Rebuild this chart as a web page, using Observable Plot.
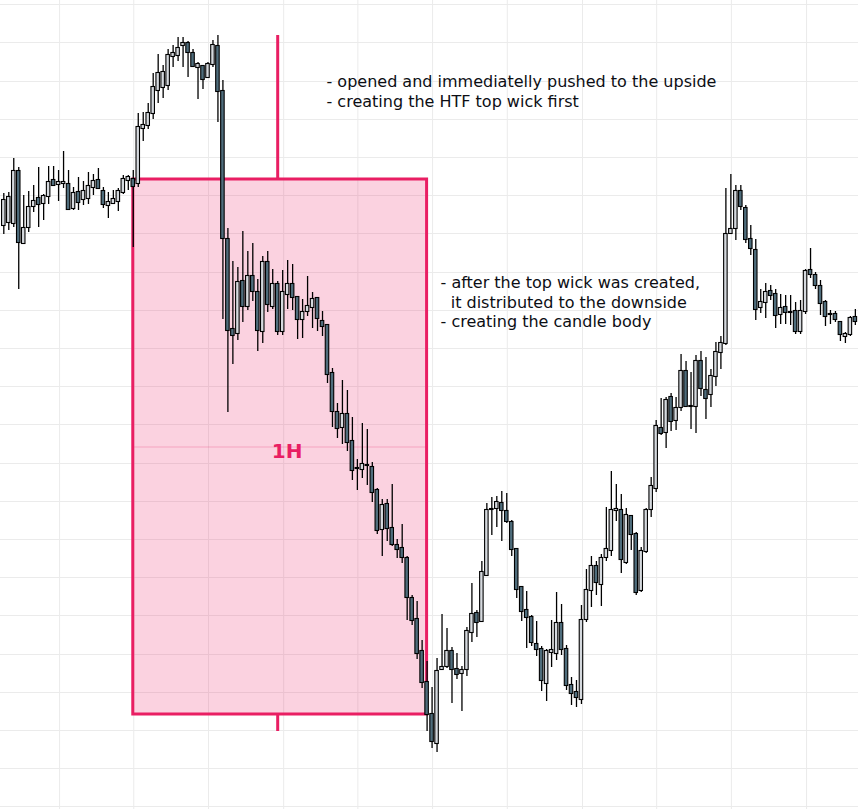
<!DOCTYPE html>
<html><head><meta charset="utf-8">
<script src="https://cdn.jsdelivr.net/npm/d3@7"></script>
<script src="https://cdn.jsdelivr.net/npm/@observablehq/plot@0.6"></script>
<style>
html,body{margin:0;padding:0;background:#fff;}
#chart svg{display:block;}
</style></head><body><div id="chart"></div>
<script>
// OHLC of the lower-timeframe candles (price units)
const open = [775,778,777,829,757,773,794,802,797,804,820,816,817,816,792,808,801,802,813,820,
809,795,797,799,808,820,821,817,872,875,887,910,913,915,944,945,955,957,947,933,
934,923,936,954,909,761,671,667,719,694,724,708,669,738,694,716,669,706,716,703,
681,689,693,702,679,675,627,588,573,586,559,532,531,535,533,510,471,496,472,455,
452,442,402,381,349,318,286,257,331,334,349,331,327,331,368,387,379,425,491,492,
497,489,478,451,413,390,383,356,351,317,348,347,377,351,315,308,301,381,410,434,
416,443,450,490,490,438,484,466,410,449,491,512,572,568,603,580,593,629,594,594,
639,610,606,624,648,657,767,772,809,792,761,750,693,698,709,706,686,693,688,689,
669,689,730,725,714,698,686,686,678,664,666,683];
const high = [807,808,842,833,805,809,815,833,806,834,834,830,849,830,813,823,819,828,826,832,
813,808,810,812,825,825,830,887,888,897,927,946,935,951,955,963,963,959,951,938,
935,938,960,965,920,772,739,733,769,749,757,721,744,749,731,719,730,740,736,703,
701,724,708,703,689,675,632,597,620,610,583,541,577,571,538,512,501,501,516,461,
476,444,405,399,360,339,313,342,386,372,353,347,334,373,417,390,439,497,503,504,
509,507,480,451,414,409,385,379,354,351,380,408,396,355,323,320,395,431,444,439,
446,493,529,516,506,492,485,468,453,492,523,580,602,603,607,603,646,639,628,645,
649,643,631,658,664,812,826,815,815,795,775,761,711,717,715,711,706,705,705,698,
700,731,752,728,720,700,690,689,678,668,684,691];
const low = [766,770,773,711,757,768,788,773,780,796,814,799,812,790,790,790,795,796,805,811,
792,782,796,789,806,810,753,813,859,871,881,897,902,910,933,939,933,923,933,901,
911,922,933,878,681,588,636,660,678,690,699,649,657,688,691,665,665,691,690,661,
662,684,672,669,664,617,573,562,556,549,520,510,522,515,498,466,444,459,454,442,
437,380,375,341,312,269,252,248,330,332,297,321,289,324,358,363,378,424,465,473,
459,477,444,402,379,352,354,344,309,299,333,340,345,310,295,293,296,378,393,405,
394,439,444,479,427,436,450,405,408,447,483,508,565,552,569,570,589,593,571,567,
604,581,593,614,631,655,767,760,790,757,745,680,687,682,700,672,676,676,675,666,
666,686,722,711,685,674,676,678,659,657,664,675];
const close = [800,803,829,758,772,793,799,796,804,818,815,818,818,791,807,798,809,814,819,812,
796,798,801,809,821,823,814,873,875,887,913,927,928,945,947,952,957,948,934,936,
921,936,955,909,762,670,665,718,694,724,709,670,738,696,716,669,708,716,703,681,
688,694,701,682,674,626,589,572,586,558,530,532,536,535,508,470,495,472,456,451,
443,403,380,347,318,286,259,329,333,349,331,326,330,369,386,378,428,490,491,498,
490,479,451,411,389,383,358,351,320,349,350,377,351,315,307,303,380,410,434,418,
442,451,490,491,441,485,466,408,449,490,514,574,567,600,579,592,629,594,594,639,
612,602,624,648,657,766,771,809,794,761,752,691,698,708,705,685,692,688,688,669,
689,729,726,715,697,684,686,681,666,666,682,679];

// price grid levels and time grid positions (candle index)
const gridPrices = [996,958,919,881,843,805,767,728,690,652,614,576,537,499,461,423,385,346,308,270,232,194];
const gridTimes = [11.2,26.1,41.1,56.2,71.1,86.1,101.1,116.2,131.1,146.1,161.2];

// higher-timeframe candle range (candle indices) and its label
const htfStart = 26, htfEnd = 85;
const htfLabel = "1H";

// annotation texts and their anchors (candle index, price)
const noteText = [
  "- opened and immediatelly pushed to the upside\n- creating the HTF top wick first",
  "- after the top wick was created,\n\u00a0\u00a0it distributed to the downside\n- creating the candle body"
];
const noteX = [64.8, 87.7];
const noteY = [928, 726];

const PINK = "#e91e63";
const UP = "#d5d9de", DOWN = "#4f6d7c";

const candles = open.map((o, i) => ({i, open: o, high: high[i], low: low[i], close: close[i]}));
const seg = candles.slice(htfStart, htfEnd + 1);
const H = {
  x1: htfStart, x2: htfEnd,
  xm: Math.floor((htfStart + htfEnd) / 2), xc: (htfStart + htfEnd) / 2,
  open: seg[0].open, close: seg[seg.length - 1].close,
  high: d3.max(seg, d => d.high), low: d3.min(seg, d => d.low)
};
H.mid = (H.open + H.close) / 2;
H.top = Math.max(H.open, H.close); H.bot = Math.min(H.open, H.close);
const notes = noteText.map((t, k) => ({t, x: noteX[k], y: noteY[k], lh: k === 0 ? 1.25 : 1.22}));

const chart = Plot.plot({
  width: 858, height: 809,
  marginTop: 0, marginRight: 0, marginBottom: 0, marginLeft: 0,
  x: {domain: [-0.663, 171.63], axis: null},
  y: {domain: [191, 1000], axis: null},
  color: {type: "identity"},
  style: {background: "#ffffff", fontFamily: "DejaVu Sans"},
  marks: [
    Plot.ruleY(gridPrices, {stroke: "#ebebeb", strokeWidth: 1}),
    Plot.ruleX(gridTimes, {stroke: "#ebebeb", strokeWidth: 1}),
    Plot.rect([H], {x1: "x1", x2: "x2", y1: "open", y2: "close", fill: PINK, fillOpacity: 0.2}),
    Plot.ruleY([H], {y: "mid", x1: "x1", x2: "x2", stroke: PINK, strokeOpacity: 0.25, strokeWidth: 1}),
    Plot.rect([H], {x1: "x1", x2: "x2", y1: "open", y2: "close", fill: "none", stroke: PINK, strokeWidth: 3}),
    Plot.ruleX([H], {x: "xm", y1: "top", y2: "high", stroke: PINK, strokeWidth: 3}),
    Plot.ruleX([H], {x: "xm", y1: "bot", y2: "low", stroke: PINK, strokeWidth: 3}),
    Plot.text([H], {x: "xc", y: "mid", text: () => htfLabel, dx: 7, dy: 5, fontSize: 20, fontWeight: "bold", fill: PINK}),
    Plot.ruleX(candles, {x: "i", y1: "low", y2: "high", stroke: "#000", strokeWidth: 1.3}),
    Plot.rect(candles, {
      x1: d => d.i - 0.35, x2: d => d.i + 0.35, y1: "open", y2: "close",
      fill: d => d.close >= d.open ? UP : DOWN, stroke: "#000", strokeWidth: 1.1,
      insetTop: -0.5, insetBottom: -0.5
    }),
    Plot.text(notes.slice(0, 1), {x: "x", y: "y", text: "t", textAnchor: "start", lineAnchor: "top",
      lineHeight: 1.25, fontSize: 16, fill: "#0c0e14"}),
    Plot.text(notes.slice(1), {x: "x", y: "y", text: "t", textAnchor: "start", lineAnchor: "top",
      lineHeight: 1.22, fontSize: 16, fill: "#0c0e14"})
  ]
});
document.getElementById("chart").appendChild(chart);
</script>
</body></html>
